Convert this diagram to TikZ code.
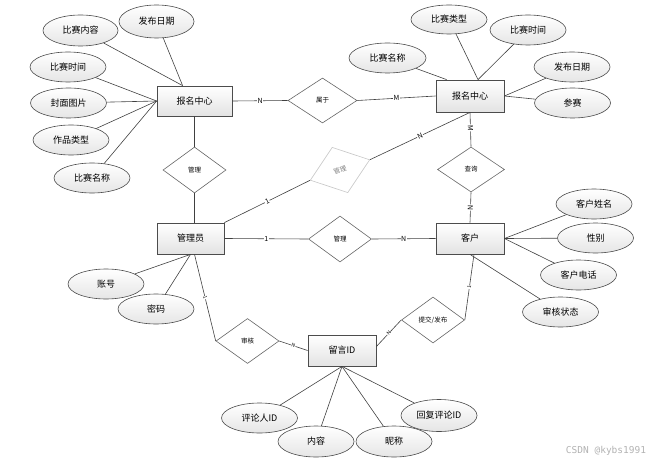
\documentclass[tikz,border=0pt]{standalone}
\usepackage{fontspec}
\setmainfont{Noto Sans CJK SC}
\newfontfamily\wmfont{DejaVu Sans Mono}
\usetikzlibrary{shapes.geometric}

\begin{document}
\begin{tikzpicture}[
  x=1pt, y=-1pt,
  line width=0.6pt,
  ent/.style={draw=black!70, line width=0.8pt, top color=white, bottom color=gray!22,
    minimum width=68pt, minimum height=31pt, inner sep=0pt, font=\fontsize{9}{10}\selectfont},
  att/.style={ellipse, draw=black!70, top color=white, bottom color=gray!20,
    minimum width=76pt, minimum height=30pt, inner sep=0pt, font=\fontsize{9}{10}\selectfont},
  rel/.style={diamond, draw=black!60, fill=white, minimum width=63pt, minimum height=46pt,
    inner sep=0pt, font=\fontsize{6.5}{7}\selectfont},
  ln/.style={draw=black!75},
  lbl/.style={fill=white, inner sep=0.6pt, font=\fontsize{7}{7}\selectfont},
  slbl/.style={fill=white, inner sep=0.3pt, sloped, font=\fontsize{5}{5}\selectfont}
]
\useasboundingbox (0,0) rectangle (668,465);

% entities
\node[ent, minimum width=75pt, minimum height=30pt] (lb) at (194.5,101) {报名中心};
\node[ent, minimum height=32pt] (rb) at (470,96) {报名中心};
\node[ent, minimum width=67pt] (mg) at (190.5,238.5) {管理员};
\node[ent] (kh) at (470,238.5) {客户};
\node[ent] (ly) at (342,350.5) {留言ID};

% relations
\node[rel, minimum width=69pt, minimum height=45pt] (sy) at (322.5,100.5) {属于};
\node[rel] (gl1) at (194.5,170) {管理};
\node[rel, minimum height=48pt, draw=gray!45, text=gray, rotate=19] (gl2) at (340,170) {管理};
\node[rel, minimum width=67pt, minimum height=45pt] (cx) at (471,169.5) {查询};
\node[rel] (gl3) at (340,239) {管理};
\node[rel, minimum height=45pt] (sh) at (247.5,341) {审核};
\node[rel] (tj) at (433,320) {提交/发布};

% attributes of left 报名中心
\node[att, minimum width=75pt, minimum height=33pt] (a1) at (156.5,21.5) {发布日期};
\node[att, minimum width=75pt, minimum height=31pt] (a2) at (80.5,30.5) {比赛内容};
\node[att] (a3) at (68,67) {比赛时间};
\node[att] (a4) at (68.5,103) {封面图片};
\node[att] (a5) at (71,140) {作品类型};
\node[att] (a6) at (92,178) {比赛名称};

% attributes of right 报名中心
\node[att, minimum width=77pt] (b1) at (387.5,58) {比赛名称};
\node[att, minimum height=29pt] (b2) at (449,19.5) {比赛类型};
\node[att] (b3) at (528,30) {比赛时间};
\node[att] (b4) at (572,67) {发布日期};
\node[att] (b5) at (572.5,103) {参赛};

% attributes of 管理员
\node[att] (c1) at (106,284) {账号};
\node[att] (c2) at (156,309) {密码};

% attributes of 客户
\node[att] (d1) at (594,204) {客户姓名};
\node[att] (d2) at (595.5,238) {性别};
\node[att] (d3) at (578.5,275) {客户电话};
\node[att] (d4) at (560.5,312) {审核状态};

% attributes of 留言ID
\node[att] (e1) at (259.5,418) {评论人ID};
\node[att, minimum height=31pt] (e2) at (316,441.5) {内容};
\node[att, minimum height=31pt] (e3) at (394,441.5) {昵称};
\node[att, minimum height=32pt] (e4) at (439,415.5) {回复评论ID};

\node[text=gray!60, font=\wmfont\fontsize{9.5}{9.5}\selectfont] (wm) at (606,451) {CSDN @kybs1991};

% attribute lines
\draw[ln] (a1) -- ([xshift=26pt]lb.north west); \draw[ln] (a2) -- ([xshift=26pt]lb.north west);
\draw[ln] (a3) -- (lb.west); \draw[ln] (a4) -- (lb.west);
\draw[ln] (a5) -- (lb.west); \draw[ln] (a6) -- (lb.west);
\draw[ln] (b1) -- ([xshift=11pt]rb.north west);
\draw[ln] (b2) -- ([xshift=8pt]rb.north); \draw[ln] (b3) -- ([xshift=8pt]rb.north);
\draw[ln] (b4) -- (rb.east); \draw[ln] (b5) -- (rb.east);
\draw[ln] (c1) -- (mg.south); \draw[ln] (c2) -- (mg.south);
\draw[ln] (d1) -- (kh.east); \draw[ln] (d2) -- (kh.east); \draw[ln] (d3) -- (kh.east);
\draw[ln] (d4) -- (kh.south);
\draw[ln] (e1) -- (ly.south); \draw[ln] (e2) -- (ly.south);
\draw[ln] (e3) -- (ly.south); \draw[ln] (e4) -- (ly.south);

% relation lines
\draw[ln] (lb.east) -- node[lbl] {N} (sy.west);
\draw[ln] (sy.east) -- node[lbl] {M} (rb.west);
\draw[ln] (lb.south) -- (gl1.north); \draw[ln] (gl1.south) -- (gl1.south |- mg.north);
\draw[ln] (rb.south) -- node[lbl, sloped, pos=0.45] {M} (cx.north);
\draw[ln] (cx.south) -- node[lbl, sloped] {N} (kh.north);
\draw[ln] (gl2.east) -- node[lbl, sloped] {N} (rb.south);
\draw[ln] (mg.north east) -- node[lbl, sloped] {1} (gl2.west);
\draw[ln] (mg.east) -- node[lbl] {1} (gl3.west);
\draw[ln] (gl3.east) -- node[lbl] {N} (kh.west);
\draw[ln] ([xshift=4pt]mg.south) -- node[slbl] {1} (sh.west);
\draw[ln] (sh.east) -- node[slbl] {N} (ly.west);
\draw[ln] ([xshift=4pt]kh.south) -- node[slbl] {1} (tj.east);
\draw[ln] (tj.west) -- node[slbl] {N} ([yshift=4pt]ly.east);
\end{tikzpicture}
\end{document}
